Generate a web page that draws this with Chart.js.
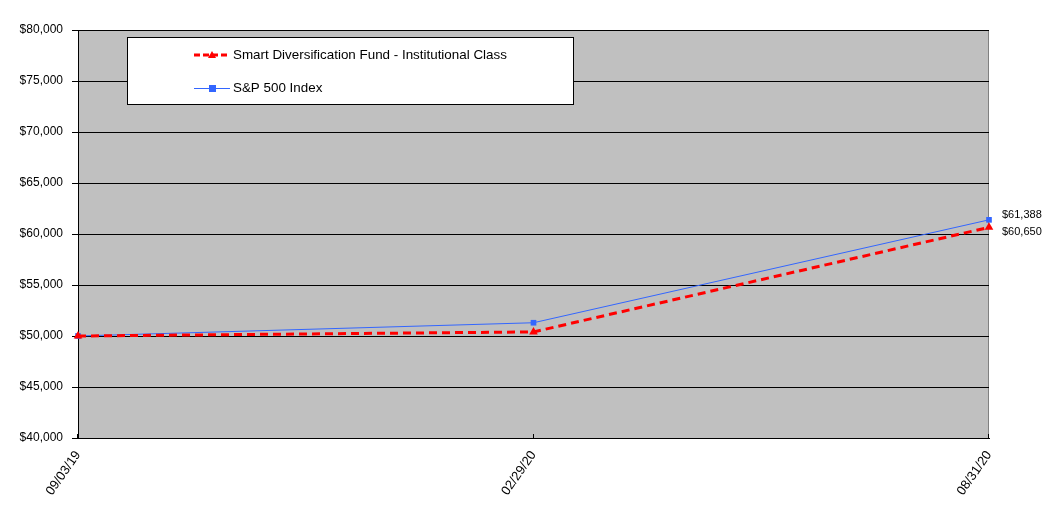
<!DOCTYPE html>
<html><head><meta charset="utf-8">
<script src="https://cdn.jsdelivr.net/npm/chart.js@4/dist/chart.umd.min.js"></script>
<style>html,body{margin:0;padding:0;background:#fff}#wrap{width:1056px;height:525px}</style>
</head><body><div id="wrap"><canvas id="c" width="1056" height="525"></canvas></div>
<script>
const categories = ["09/03/19", "02/29/20", "08/31/20"];
const fundValues = [50000, 50400, 60650];
const spValues = [50000, 51300, 61388];
const fundName = "Smart Diversification Fund - Institutional Class";
const spName = "S&P 500 Index";
const endLabels = ["$61,388", "$60,650"];

const FONT = "'Liberation Sans', Arial, sans-serif";

const bgPlugin = {
  id: 'bg',
  beforeDraw(chart) {
    const {ctx, chartArea: a} = chart;
    ctx.save();
    ctx.fillStyle = '#C0C0C0';
    ctx.fillRect(a.left, a.top, a.right - a.left, a.bottom - a.top);
    ctx.strokeStyle = '#808080';
    ctx.lineWidth = 1;
    ctx.strokeRect(a.left + 0.5, a.top + 0.5, a.right - a.left - 1, a.bottom - a.top);
    ctx.restore();
  },
  afterDatasetsDraw(chart) {
    const {ctx, chartArea: a} = chart;
    ctx.save();
    const xs = chart.scales.x;
    ctx.strokeStyle = '#000';
    ctx.lineWidth = 1;
    for (let i = 0; i < categories.length; i++) {
      const x = Math.round(xs.getPixelForValue(i)) - 0.5;
      ctx.beginPath(); ctx.moveTo(x, a.bottom - 4); ctx.lineTo(x, a.bottom); ctx.stroke();
    }
    ctx.font = '11px ' + FONT;
    ctx.fillStyle = '#000';
    ctx.textBaseline = 'middle';
    ctx.textAlign = 'left';
    const spMeta = chart.getDatasetMeta(1).data;
    const fMeta = chart.getDatasetMeta(0).data;
    const sp = spMeta[spMeta.length - 1];
    const f = fMeta[fMeta.length - 1];
    ctx.fillText(endLabels[0], sp.x + 13, sp.y - 5);
    ctx.fillText(endLabels[1], f.x + 13, f.y + 5);
    const bx = 127.5, by = 37.5, bw = 446, bh = 67;
    ctx.fillStyle = '#fff';
    ctx.fillRect(bx, by, bw, bh);
    ctx.strokeStyle = '#000';
    ctx.lineWidth = 1;
    ctx.strokeRect(bx, by, bw, bh);
    const y1 = 55, y2 = 88;
    ctx.strokeStyle = '#FF0000';
    ctx.lineWidth = 3;
    ctx.setLineDash([6, 3]);
    ctx.beginPath(); ctx.moveTo(194, y1); ctx.lineTo(230, y1); ctx.stroke();
    ctx.setLineDash([]);
    ctx.fillStyle = '#FF0000';
    ctx.beginPath(); ctx.moveTo(212, y1 - 4); ctx.lineTo(216, y1 + 3); ctx.lineTo(208, y1 + 3); ctx.closePath(); ctx.fill();
    ctx.strokeStyle = '#3366FF';
    ctx.lineWidth = 1;
    ctx.beginPath(); ctx.moveTo(194, y2 + 0.5); ctx.lineTo(230, y2 + 0.5); ctx.stroke();
    ctx.fillStyle = '#3366FF';
    ctx.fillRect(209, y2 - 3, 7, 7);
    ctx.fillStyle = '#000';
    ctx.font = '13.4px ' + FONT;
    ctx.textAlign = 'left';
    ctx.fillText(fundName, 233, y1);
    ctx.fillText(spName, 233, y2);
    ctx.restore();
  }
};

new Chart(document.getElementById('c'), {
  type: 'line',
  data: {
    labels: categories,
    datasets: [
      {
        label: fundName,
        data: fundValues,
        borderColor: '#FF0000',
        backgroundColor: '#FF0000',
        borderWidth: 3,
        borderDash: [8, 5],
        pointStyle: 'triangle',
        pointRadius: 5,
        pointBorderWidth: 0,
        tension: 0,
        order: 1
      },
      {
        label: spName,
        data: spValues,
        borderColor: '#3366FF',
        backgroundColor: '#3366FF',
        borderWidth: 1,
        pointStyle: 'rect',
        pointRadius: 4,
        pointBorderWidth: 0,
        tension: 0,
        order: 2
      }
    ]
  },
  options: {
    responsive: false,
    animation: false,
    devicePixelRatio: 1,
    layout: { padding: { left: 0, top: 30, right: 67, bottom: 0 } },
    plugins: { legend: { display: false }, tooltip: { enabled: false } },
    scales: {
      x: {
        type: 'category',
        offset: false,
        afterFit(s) { s.height = 87; },
        grid: { display: false, drawTicks: false },
        border: { display: true, color: '#000', width: 1 },
        ticks: {
          color: '#000',
          font: { family: FONT, size: 13 },
          maxRotation: 55, minRotation: 55,
          padding: 10,
          autoSkip: false
        }
      },
      y: {
        min: 40000, max: 80000,
        afterFit(s) { s.width = 78; },
        grid: { color: '#000', lineWidth: 1, tickLength: 6, drawTicks: true },
        border: { display: true, color: '#000', width: 1 },
        ticks: {
          stepSize: 5000,
          color: '#000',
          font: { family: FONT, size: 12 },
          padding: 9,
          callback: v => '$' + v.toLocaleString('en-US')
        }
      }
    }
  },
  plugins: [bgPlugin]
});
</script>
</body></html>
